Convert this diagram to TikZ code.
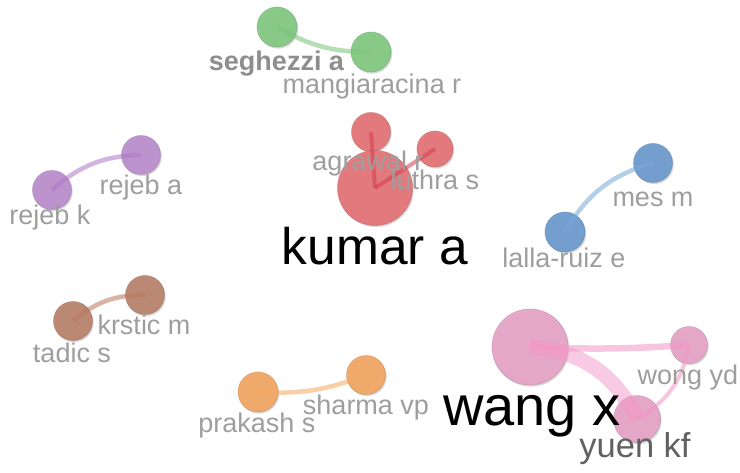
\documentclass[tikz,border=0pt]{standalone}
\usepackage{fontspec}
\setmainfont{Liberation Sans}
\usetikzlibrary{shadows}
\definecolor{cgreen}{RGB}{128,200,128}
\definecolor{cred}{RGB}{228,112,116}
\definecolor{cpurple}{RGB}{186,140,204}
\definecolor{cblue}{RGB}{104,152,204}
\definecolor{cbrown}{RGB}{184,128,104}
\definecolor{corange}{RGB}{242,164,96}
\definecolor{cpink}{RGB}{230,162,198}
\definecolor{lgreen}{RGB}{120,196,120}
\definecolor{lred}{RGB}{212,60,78}
\definecolor{lpurple}{RGB}{176,120,196}
\definecolor{lblue}{RGB}{120,170,216}
\definecolor{lbrown}{RGB}{186,120,92}
\definecolor{lorange}{RGB}{246,168,98}
\definecolor{lpink}{RGB}{244,150,200}
\definecolor{lblgray}{RGB}{158,158,158}
\tikzset{
  dot/.style n args={2}{circle, inner sep=0pt, minimum size=#2, fill=#1, fill opacity=0.9, draw=#1!80!black, draw opacity=0.45, line width=0.8pt,
     drop shadow={shadow xshift=1.2pt, shadow yshift=-1.6pt, opacity=0.15, fill=black}},
  link/.style={draw=#1, opacity=0.55},
  lbl/.style={anchor=base, inner sep=0pt, text=lblgray, font=\fontsize{27}{27}\selectfont},
  biglbl/.style={anchor=base, inner sep=0pt, text=black, font=\fontsize{#1}{#1}\selectfont}
}
\begin{document}
\begin{tikzpicture}[x=1pt,y=1pt]
\useasboundingbox (0,0) rectangle (740,472);
\fill[white] (0,0) rectangle (740,472);
% nodes
\node[dot={cgreen}{40pt}] (seg) at (277,445) {};
\node[dot={cgreen}{40pt}] (man) at (371,420) {};
\node[dot={cred}{39pt}] (agr) at (371,340) {};
\node[dot={cred}{36pt}] (lut) at (435,323) {};
\node[dot={cred}{75pt}] (kum) at (375,284) {};
\node[dot={cpurple}{39pt}] (rja) at (141,317) {};
\node[dot={cpurple}{39pt}] (rjk) at (52,282) {};
\node[dot={cblue}{39pt}] (mes) at (653,309) {};
\node[dot={cblue}{40pt}] (lal) at (565,240) {};
\node[dot={cbrown}{39pt}] (krs) at (145,177) {};
\node[dot={cbrown}{39pt}] (tad) at (73,151) {};
\node[dot={corange}{39pt}] (sha) at (366,97) {};
\node[dot={corange}{40pt}] (pra) at (258,80) {};
\node[dot={cpink}{76pt}] (wan) at (530,125) {};
\node[dot={cpink}{37pt}] (won) at (689,127) {};
\node[dot={cpink}{47pt}] (yue) at (637,53) {};
% links
\draw[link=lgreen, line width=4.5pt] (seg.center) to[bend right=15] (man.center);
\draw[link=lred, line width=4pt] (agr.center) to (kum.center);
\draw[link=lred, line width=4pt] (kum.center) to (lut.center);
\draw[link=lpurple, line width=4.5pt] (rjk.center) to[bend left=20] (rja.center);
\draw[link=lblue, line width=4.5pt] (lal.center) to[bend left=22] (mes.center);
\draw[link=lbrown, line width=4.5pt] (tad.center) to[bend left=20] (krs.center);
\draw[link=lorange, line width=4.5pt] (pra.center) to[bend right=12] (sha.center);
\draw[link=lpink, line width=15pt, opacity=0.5] (wan.center) to[bend left=30] (yue.center);
\draw[link=lpink, line width=6.5pt] (wan.center) to[bend right=3] (won.center);
\draw[link=lpink, line width=4pt] (won.center) to[bend left=25] (yue.center);
% labels
\node[lbl, text=lblgray!90!black, font=\bfseries\fontsize{27}{27}\selectfont] (seg-l) at (276.5,401) {seghezzi a};
\node[lbl] (man-l) at (372,378) {mangiaracina r};
\node[lbl] (agr-l) at (368,301) {agrawal r};
\node[lbl] (lut-l) at (435,282) {luthra s};
\node[biglbl=51.5] (kum-l) at (375,207) {kumar a};
\node[lbl] (rja-l) at (141,277) {rejeb a};
\node[lbl] (rjk-l) at (50,247) {rejeb k};
\node[lbl] (mes-l) at (653,265) {mes m};
\node[lbl] (lal-l) at (564,204) {lalla-ruiz e};
\node[lbl] (krs-l) at (144,137) {krstic m};
\node[lbl] (tad-l) at (72,110) {tadic s};
\node[lbl] (sha-l) at (366,57) {sharma vp};
\node[lbl] (pra-l) at (257,40) {prakash s};
\node[biglbl=56] (wan-l) at (532,46) {wang x};
\node[lbl] (won-l) at (688,87) {wong yd};
\node[lbl, text=black!62, font=\fontsize{34.5}{34.5}\selectfont] (yue-l) at (635,15) {yuen kf};
\end{tikzpicture}
\end{document}
